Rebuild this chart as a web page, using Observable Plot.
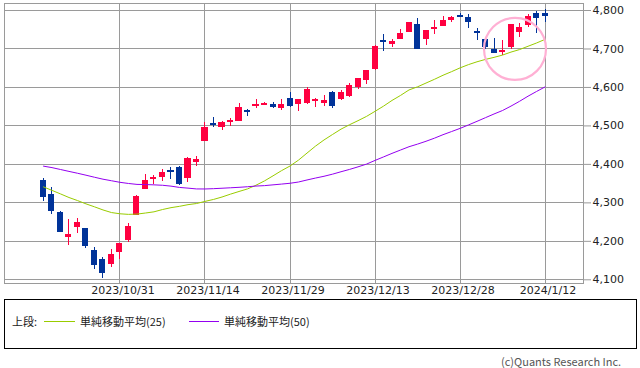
<!DOCTYPE html>
<html>
<head>
<meta charset="utf-8">
<script src="https://cdn.jsdelivr.net/npm/d3@7"></script>
<script src="https://cdn.jsdelivr.net/npm/@observablehq/plot@0.6"></script>
<style>
  html, body { margin: 0; padding: 0; background: #fff; }
  body { width: 640px; height: 368px; position: relative; overflow: hidden; font-family: "Noto Sans CJK JP", "DejaVu Sans", sans-serif; }
  #chart { position: absolute; left: 0; top: 0; }
  #legend { position: absolute; left: 4px; top: 299px; width: 633px; height: 50px; box-sizing: border-box; border: 1px solid #000; }
  #legend span { position: absolute; top: 13px; font-size: 11px; line-height: 16px; color: #222; white-space: nowrap; }
  #legend i { position: absolute; top: 21px; height: 1px; }
  #credit { position: absolute; left: 501px; top: 353px; font-size: 11px; line-height: 16px; color: #555; white-space: nowrap; }
</style>
</head>
<body>
<div id="chart"></div>
<div id="legend"></div>
<div id="credit"></div>
<script>
// ---- data (daily candles) ----
const dates = ["2023/10/18","2023/10/19","2023/10/20","2023/10/23","2023/10/24","2023/10/25","2023/10/26","2023/10/27","2023/10/30","2023/10/31",
"2023/11/1","2023/11/2","2023/11/3","2023/11/6","2023/11/7","2023/11/8","2023/11/9","2023/11/10","2023/11/13","2023/11/14",
"2023/11/15","2023/11/16","2023/11/17","2023/11/20","2023/11/21","2023/11/22","2023/11/24","2023/11/27","2023/11/28","2023/11/29",
"2023/11/30","2023/12/1","2023/12/4","2023/12/5","2023/12/6","2023/12/7","2023/12/8","2023/12/11","2023/12/12","2023/12/13",
"2023/12/14","2023/12/15","2023/12/18","2023/12/19","2023/12/20","2023/12/21","2023/12/22","2023/12/26","2023/12/27","2023/12/28",
"2023/12/29","2024/1/2","2024/1/3","2024/1/4","2024/1/5","2024/1/8","2024/1/9","2024/1/10","2024/1/11","2024/1/12"];

const open = [4357.4,4321.4,4273.9,4210.4,4235.8,4232.4,4176.0,4152.9,4139.4,4171.3,
4201.3,4268.3,4334.2,4364.3,4366.2,4384.4,4391.4,4364.2,4406.7,4459.0,
4505.3,4497.1,4509.6,4511.7,4538.8,4553.0,4555.8,4554.9,4545.6,4571.8,
4554.9,4559.4,4564.4,4557.3,4586.2,4568.8,4576.2,4600.2,4618.3,4646.2,
4721.0,4714.2,4725.6,4743.7,4764.7,4724.3,4753.9,4758.9,4773.5,4786.4,
4782.9,4745.2,4725.1,4697.4,4690.6,4703.7,4741.9,4759.9,4792.1,4791.2];

const high = [4364.2,4339.5,4276.6,4255.8,4259.4,4232.4,4183.6,4156.7,4177.5,4195.6,
4245.6,4319.7,4373.6,4372.2,4386.3,4391.2,4393.4,4418.0,4421.8,4508.7,
4521.2,4512.0,4520.1,4557.1,4542.1,4568.4,4560.3,4561.4,4568.1,4587.6,
4569.9,4599.4,4572.4,4578.6,4590.7,4590.9,4609.2,4623.3,4643.9,4709.7,
4738.6,4725.5,4749.5,4768.7,4778.0,4748.7,4772.9,4784.7,4785.4,4793.3,
4788.4,4754.3,4729.3,4726.8,4721.5,4764.5,4765.5,4790.8,4798.5,4802.4];

const low = [4303.8,4269.7,4223.0,4189.2,4219.4,4181.4,4127.9,4103.8,4132.9,4153.1,
4197.7,4268.3,4334.2,4347.5,4355.4,4359.8,4343.9,4353.3,4393.8,4459.0,
4495.3,4487.8,4499.7,4510.4,4525.5,4545.1,4552.8,4545.9,4540.5,4547.2,
4537.2,4554.7,4546.7,4551.7,4546.5,4565.2,4574.1,4593.4,4608.1,4643.2,
4694.3,4704.7,4725.6,4743.7,4697.8,4708.4,4736.8,4758.5,4768.9,4781.0,
4752.0,4722.7,4699.7,4687.5,4682.1,4699.8,4730.4,4756.2,4739.6,4769.0];

const close = [4314.6,4278.0,4224.2,4217.0,4247.7,4186.8,4137.2,4117.4,4166.8,4193.8,
4237.9,4317.8,4358.3,4366.0,4378.4,4382.8,4347.4,4415.2,4411.6,4495.7,
4502.9,4508.2,4514.0,4547.4,4538.2,4556.6,4559.3,4550.4,4554.9,4550.6,
4567.8,4594.6,4569.8,4567.2,4549.3,4585.6,4604.4,4622.4,4643.7,4707.1,
4719.6,4719.2,4740.6,4768.4,4698.4,4746.8,4754.6,4774.8,4781.6,4783.4,
4769.8,4742.8,4704.8,4688.7,4697.2,4763.5,4756.5,4783.5,4780.2,4783.8];

const sma25 = [4341.5,4332.4,4323.3,4313.9,4306.0,4297.4,4289.7,4281.6,4274.8,4271.6,
4270.1,4270.8,4273.6,4276.7,4282.7,4287.5,4291.0,4295.3,4298.3,4303.8,
4308.9,4315.2,4322.7,4329.6,4336.2,4345.9,4357.1,4370.2,4383.7,4395.8,
4411.1,4429.4,4447.5,4463.5,4477.7,4491.6,4503.1,4513.6,4524.7,4537.9,
4551.4,4566.2,4579.2,4593.5,4601.6,4611.4,4621.2,4631.7,4641.0,4650.8,
4659.4,4666.7,4672.9,4678.2,4684.1,4691.9,4698.4,4707.0,4715.5,4724.9];

const sma50 = [4395.4,4391.6,4386.7,4381.8,4377.0,4371.9,4366.6,4361.5,4357.5,4353.4,
4350.4,4348.0,4347.6,4346.8,4345.7,4343.5,4340.1,4338.3,4336.2,4336.1,
4336.9,4338.0,4339.2,4340.4,4341.9,4343.7,4344.8,4346.8,4348.8,4350.9,
4354.2,4359.5,4364.5,4369.1,4374.6,4380.9,4386.9,4393.6,4400.7,4410.3,
4419.4,4428.6,4437.3,4445.9,4452.7,4460.1,4468.2,4477.2,4485.3,4493.5,
4502.6,4511.9,4521.5,4531.0,4540.0,4551.5,4563.9,4577.2,4589.5,4601.3];

const xTickLabels = ["2023/10/31","2023/11/14","2023/11/29","2023/12/13","2023/12/28","2024/1/12"];
const yTicks = [4100,4200,4300,4400,4500,4600,4700,4800];
const legendPrefix = "上段:";
const seriesNames = ["単純移動平均(25)","単純移動平均(50)"];
const credit = "(c)Quants Research Inc.";
// highlight annotation (pink circle)
const highlightDate = ["2024/1/8"];
const highlightValue = [4700];

// ---- styles ----
const UP = "#ff0040", DOWN = "#003399";
const C25 = "#99cc00", C50 = "#9400f0";
const GRID = "#9a9a9a";

const data = dates.map((d, i) => ({i, date: d, o: open[i], h: high[i], l: low[i], c: close[i], m25: sma25[i], m50: sma50[i]}));
const col = d => d.c >= d.o ? UP : DOWN;
const tickIdx = xTickLabels.map(t => dates.indexOf(t));
const hl = highlightDate.map((d, k) => ({i: dates.indexOf(d), v: highlightValue[k]}));
const half = 0.353;

const chart = Plot.plot({
  width: 640,
  height: 298,
  marginTop: 3,
  marginBottom: 15,
  marginLeft: 4,
  marginRight: 57,
  x: {domain: [-4.588, 63.529], axis: null},
  y: {domain: [4090.4, 4818.2], axis: null},
  style: {fontFamily: "DejaVu Sans", fontSize: "11px", color: "#222", background: "#fff", overflow: "visible"},
  marks: [
    Plot.ruleY(yTicks, {stroke: GRID, shapeRendering: "crispEdges"}),
    Plot.ruleX(tickIdx, {stroke: GRID, shapeRendering: "crispEdges"}),
    Plot.axisY(yTicks, {anchor: "right", label: null, tickSize: 7, tickPadding: 2, stroke: GRID, tickFormat: d3.format(","), fill: "#222"}),
    Plot.axisX(tickIdx, {anchor: "bottom", label: null, tickSize: 0, tickPadding: 3, dx: 3, tickFormat: i => dates[i], fill: "#222"}),
    Plot.frame({stroke: GRID, shapeRendering: "crispEdges"}),
    Plot.ruleX(data, {x: "i", y1: "l", y2: "h", stroke: col, shapeRendering: "crispEdges"}),
    Plot.rect(data, {x1: d => d.i - half, x2: d => d.i + half, y1: "o", y2: "c", fill: col, shapeRendering: "crispEdges"}),
    Plot.ruleY(data, {x1: d => d.i - half, x2: d => d.i + half, y: d => (d.o + d.c) / 2, stroke: col, strokeWidth: 2, shapeRendering: "crispEdges"}),
    Plot.line(data, {x: "i", y: "m25", stroke: C25, strokeWidth: 1}),
    Plot.line(data, {x: "i", y: "m50", stroke: C50, strokeWidth: 1}),
    Plot.dot(hl, {x: "i", y: "v", r: 31, dx: 4, stroke: "#ffb0d4", strokeWidth: 2.2, fill: "none"})
  ]
});
document.getElementById("chart").appendChild(chart);

// ---- legend & credit ----
const lg = document.getElementById("legend");
const items = [
  `<span style="left:7px">${legendPrefix}</span>`,
  `<i style="left:39px;width:31px;background:${C25}"></i>`,
  `<span style="left:75px">${seriesNames[0]}</span>`,
  `<i style="left:184px;width:30px;background:${C50}"></i>`,
  `<span style="left:219px">${seriesNames[1]}</span>`
];
lg.innerHTML = items.join("");
document.getElementById("credit").textContent = credit;
</script>
</body>
</html>
